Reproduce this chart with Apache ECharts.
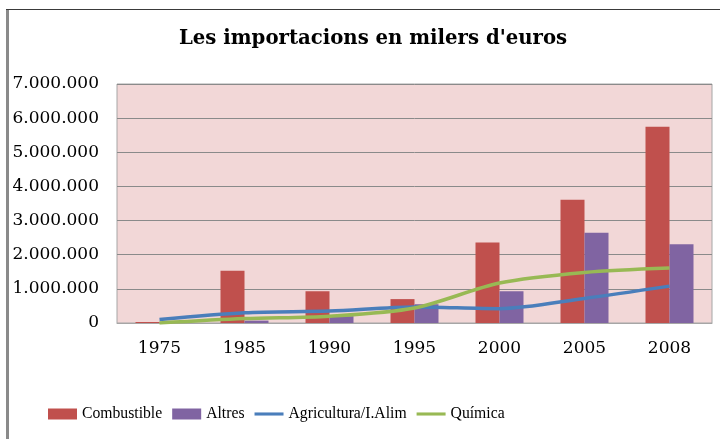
<!DOCTYPE html>
<html><head><meta charset="utf-8">
<script src="https://cdn.jsdelivr.net/npm/echarts@6/dist/echarts.min.js"></script>
<style>html,body{margin:0;padding:0;background:#fff}#c{width:720px;height:439px}</style>
</head><body><div id="c"></div>
<script>
const years = ['1975','1985','1990','1995','2000','2005','2008'];
const combustible = [30000,1530000,930000,700000,2360000,3610000,5750000];
const altres = [10000,70000,200000,550000,930000,2640000,2310000];
const agricultura = [100000,300000,350000,470000,420000,720000,1080000];
const quimica = [0,130000,200000,440000,1170000,1480000,1610000];
const seriesNames = ['Combustible','Altres','Agricultura/I.Alim','Química'];
const titleText = "Les importacions en milers d'euros";

function fmt(v){return String(v).replace(/\B(?=(\d{3})+(?!\d))/g,'.');}
const lineIcon = 'path://M0,0 L30,0 L30,3.2 L0,3.2 Z';

const chart = echarts.init(document.getElementById('c'));
chart.setOption({
  animation:false,
  backgroundColor:'#fff',
  graphic:[
    {type:'rect',shape:{x:6,y:9,width:3,height:430},style:{fill:'#8a8a8a'}},
    {type:'line',shape:{x1:6,y1:9.5,x2:720,y2:9.5},style:{stroke:'#3a3a3a',lineWidth:1}}
  ],
  title:{text:titleText,left:174,top:24,
    textStyle:{fontFamily:'DejaVu Serif',fontWeight:'bold',fontSize:19.7,color:'#000'}},
  legend:{left:48,top:406,padding:0,itemWidth:29,itemHeight:11,itemGap:10,
    textStyle:{fontFamily:'Liberation Serif',fontSize:15.7,color:'#000'},
    data:[{name:seriesNames[0],icon:'rect'},{name:seriesNames[1],icon:'rect'},
          {name:seriesNames[2],icon:lineIcon},{name:seriesNames[3],icon:lineIcon}]},
  grid:{left:117,right:8,top:84,bottom:116,show:true,backgroundColor:'#F2D7D7',borderColor:'#a6a6a6',borderWidth:1},
  xAxis:{type:'category',data:years,
    axisLine:{lineStyle:{color:'#a6a6a6'}},axisTick:{show:false},
    axisLabel:{fontFamily:'DejaVu Serif',fontSize:17,color:'#000',margin:17}},
  yAxis:{type:'value',min:0,max:7000000,interval:1000000,
    axisLine:{show:false},axisTick:{show:false},
    splitLine:{lineStyle:{color:'#8a8a8a',width:1}},
    axisLabel:{fontFamily:'DejaVu Serif',fontSize:17,color:'#000',margin:18,formatter:fmt}},
  series:[
    {name:seriesNames[0],type:'bar',data:combustible,barWidth:24,barGap:'0%',itemStyle:{color:'#C0504D'}},
    {name:seriesNames[1],type:'bar',data:altres,barWidth:24,barGap:'0%',itemStyle:{color:'#8064A2'}},
    {name:seriesNames[2],type:'line',data:agricultura,smooth:0.3,symbol:'none',lineStyle:{color:'#4A7EBB',width:3.5},itemStyle:{color:'#4A7EBB'}},
    {name:seriesNames[3],type:'line',data:quimica,smooth:0.3,symbol:'none',lineStyle:{color:'#98B954',width:3.5},itemStyle:{color:'#98B954'}}
  ]
});
</script></body></html>
